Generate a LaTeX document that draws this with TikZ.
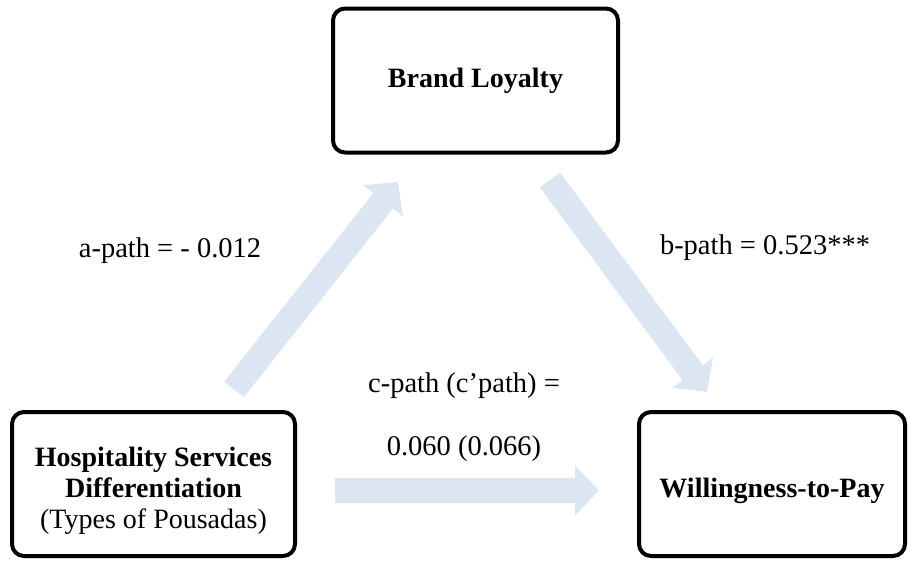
\documentclass[tikz,border=0pt]{standalone}
\usepackage{fontspec}
\setmainfont{Liberation Serif}
\usetikzlibrary{arrows.meta}
\definecolor{pathblue}{RGB}{220,230,242}

% lower box text a little while keeping its nominal size
\newcommand{\lowered}[1]{\raisebox{-7pt}[\height][\depth]{#1}}

\begin{document}
\begin{tikzpicture}[x=1pt,y=-1pt,
  box/.style={draw=black, line width=4pt, rounded corners=12pt, fill=white,
    align=center, inner sep=0pt, minimum height=144pt,
    font=\fontsize{28}{31}\selectfont\bfseries},
  lbl/.style={inner sep=0pt, anchor=base, font=\fontsize{28.5}{31}\selectfont},
  fatarrow/.style={draw=pathblue, line width=25pt, line cap=butt,
    -{Triangle[width=49pt, length=24pt]}},
]
\useasboundingbox (0,0) rectangle (913,560);

% variable boxes
\node[box, minimum width=285pt] (loyal) at (475.5,80.5) {Brand Loyalty};
\node[box, minimum width=283pt] (hosp) at (153.5,484)
  {\lowered{\begin{tabular}{@{}c@{}}Hospitality Services\\Differentiation\\{\mdseries (Types of Pousadas)}\end{tabular}}};
\node[box, minimum width=266pt] (wtp) at (772,484) {\lowered{Willingness-to-Pay}};

% free ends of the path arrows
\coordinate (aTail) at (234,389.5);
\coordinate (aTip)  at (398,182);
\coordinate (bTail) at (550,180);
\coordinate (bTip)  at (707,392);
\coordinate (cTail) at (335,490.5);
\coordinate (cTip)  at (599,490.5);

\draw[fatarrow] (aTail) -- (aTip);
\draw[fatarrow] (bTail) -- (bTip);
\draw[fatarrow] (cTail) -- (cTip);

% path coefficients
\node[lbl] (alab) at (170,257) {a-path = - 0.012};
\node[lbl] (blab) at (765,254) {b-path = 0.523***};
\node[lbl] (clab) at (464,392) {c-path (c’path) =};
\node[lbl] (cval) at (464,455) {0.060 (0.066)};
\end{tikzpicture}
\end{document}
